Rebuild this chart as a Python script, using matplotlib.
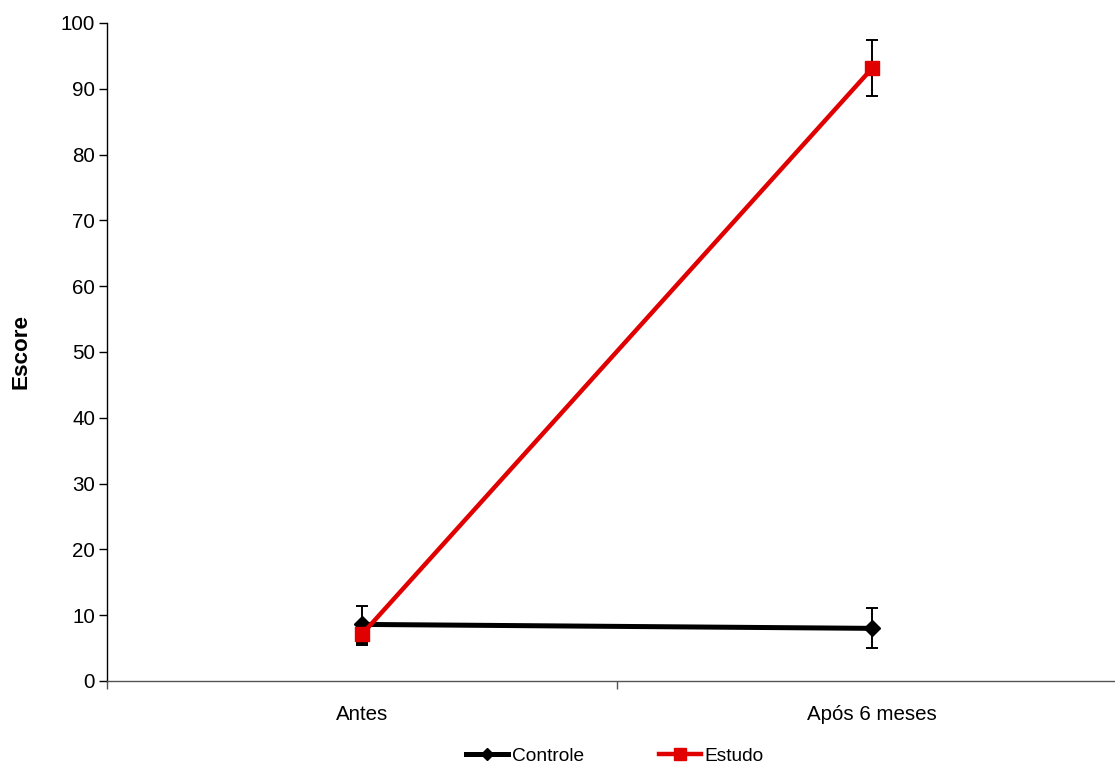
import matplotlib
matplotlib.use("Agg")
import matplotlib.pyplot as plt
from matplotlib.lines import Line2D

plt.rcParams['font.family'] = ['Liberation Sans', 'DejaVu Sans']

# scores before and after 6 months, with standard deviation
categories = ["Antes", "Após 6 meses"]
controle = [8.6, 8.0]
controle_err = [2.8, 3.05]
estudo = [7.1, 93.1]
estudo_err = [1.6, 4.25]

fig = plt.figure(figsize=(11.15, 7.65), dpi=100)
W, H = 1115, 765
# plot area in pixels: left 107, right 1127 (runs past the edge), top 23, bottom 681
ax = fig.add_axes([107 / W, (H - 681) / H, (1127 - 107) / W, (681 - 23) / H])

x = list(range(len(categories)))
ax.errorbar(x, controle, yerr=controle_err, color='black', lw=3.6,
            marker='D', markersize=8, ecolor='black', elinewidth=1.4,
            capsize=4.5, capthick=1.4, zorder=3)
ax.errorbar(x, estudo, yerr=estudo_err, color='#e00000', lw=3.2,
            marker='s', markersize=10, ecolor='black', elinewidth=1.4,
            capsize=4.5, capthick=1.4, zorder=4)

ax.set_xlim(-0.5, 1.5)
ax.set_ylim(0, 100)
ax.set_yticks(range(0, 101, 10))
ax.set_xticks(x)
ax.set_xticklabels(categories, fontsize=14.8)
ax.tick_params(axis='x', length=0, pad=17)
ax.set_xticks([-0.5, 0.5, 1.5], minor=True)
ax.tick_params(axis='x', which='minor', length=6, width=1, color='#555555')
ax.tick_params(axis='y', length=6, width=1, labelsize=14.8, pad=2.5)

for s in ['top', 'right']:
    ax.spines[s].set_visible(False)
ax.spines['left'].set_linewidth(1)
ax.spines['bottom'].set_linewidth(1)
ax.spines['bottom'].set_color('#555555')

ax.set_ylabel("Escore", fontsize=16.2, fontweight='bold', labelpad=21)

handles = [
    Line2D([], [], color='black', lw=3.6, marker='D', markersize=6),
    Line2D([], [], color='#e00000', lw=3.2, marker='s', markersize=9),
]
fig.legend(handles, ['Controle', 'Estudo'], loc='center',
           bbox_to_anchor=(615 / W, (H - 756) / H), ncol=2,
           frameon=False, fontsize=13.8, handlelength=2.2, handletextpad=0.2,
           columnspacing=3.9)

fig.savefig("out.png", dpi=100)
